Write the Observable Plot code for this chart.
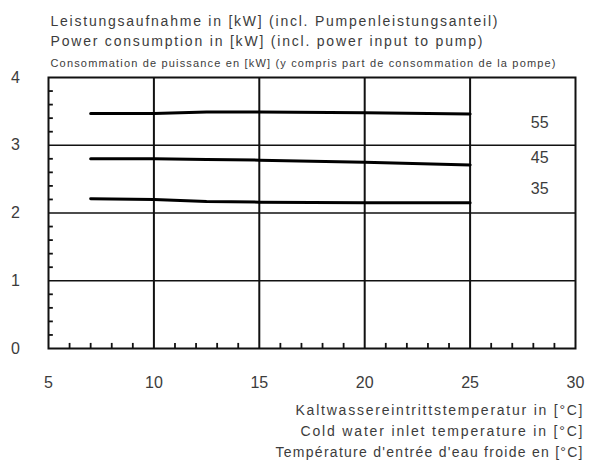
<!DOCTYPE html>
<html>
<head>
<meta charset="utf-8">
<script src="https://cdn.jsdelivr.net/npm/d3@7"></script>
<script src="https://cdn.jsdelivr.net/npm/@observablehq/plot@0.6"></script>
<style>
  html, body { margin: 0; padding: 0; background: #fff; }
  svg { display: block; }
</style>
</head>
<body>
<div id="chart"></div>
<script>
// --- data ---
const temps = [7, 10, 12.5, 15, 20, 25];
const p55 = [3.47, 3.47, 3.49, 3.49, 3.48, 3.46];
const p45 = [2.80, 2.80, 2.79, 2.78, 2.75, 2.71];
const p35 = [2.21, 2.20, 2.17, 2.16, 2.15, 2.15];
const seriesNames = ["55", "45", "35"];
const labelX = [28.3, 28.3, 28.3];
const labelY = [3.33, 2.82, 2.35];
const xTicks = [5, 10, 15, 20, 25, 30];
const yTicks = [0, 1, 2, 3, 4];
const xMinor = [6,7,8,9,11,12,13,14,16,17,18,19,21,22,23,24,26,27,28,29];
const yMinor = [0.2,0.4,0.6,0.8,1.2,1.4,1.6,1.8,2.2,2.4,2.6,2.8,3.2,3.4,3.6,3.8];
const titleLines = [
  "Leistungsaufnahme in [kW] (incl. Pumpenleistungsanteil)",
  "Power consumption in [kW] (incl. power input to pump)",
  "Consommation de puissance en [kW] (y compris part de consommation de la pompe)"
];
const xTitleLines = [
  "Kaltwassereintrittstemperatur in [°C]",
  "Cold water inlet temperature in [°C]",
  "Température d'entrée d'eau froide en [°C]"
];

const rows = [];
[p55, p45, p35].forEach((arr, i) => arr.forEach((v, j) => rows.push({series: seriesNames[i], t: temps[j], p: v})));
const labels = seriesNames.map((s, i) => ({s, x: labelX[i], y: labelY[i]}));

const textColor = "#3c3c3c";
const font = "Liberation Sans, Arial, sans-serif";

const chart = Plot.plot({
  width: 590,
  height: 469,
  marginLeft: 48,
  marginRight: 15,
  marginTop: 77,
  marginBottom: 121,
  style: {fontFamily: font, background: "#fff", overflow: "visible"},
  x: {domain: [5, 30]},
  y: {domain: [0, 4]},
  marks: [
    Plot.gridY([1, 2, 3], {stroke: "#111", strokeOpacity: 1, strokeWidth: 1.5}),
    Plot.gridX([10, 15, 20, 25], {stroke: "#111", strokeOpacity: 1, strokeWidth: 2}),
    Plot.ruleX(xMinor, {y1: 0, y2: 0.075, stroke: "#111", strokeWidth: 1.8}),
    Plot.ruleY(yMinor, {x1: 5, x2: 5.23, stroke: "#111", strokeWidth: 1.8}),
    Plot.frame({stroke: "#111", strokeWidth: 2}),
    Plot.line(rows, {x: "t", y: "p", z: "series", stroke: "#000", strokeWidth: 3}),
    Plot.text(labels, {x: "x", y: "y", text: "s", fontSize: 16, fill: textColor}),
    Plot.axisX(xTicks, {tickSize: 0, tickPadding: 28, fontSize: 16, fill: textColor, label: null, tickFormat: "d"}),
    Plot.axisY(yTicks, {tickSize: 0, tickPadding: 33, fontSize: 16, fill: textColor, label: null, textAnchor: "middle", tickFormat: "d"}),
    Plot.text([titleLines[0]], {className: "tl0", frameAnchor: "top-left", text: d => d, dy: -61, dx: 2, fontSize: 14, fill: textColor, textAnchor: "start"}),
    Plot.text([titleLines[1]], {className: "tl1", frameAnchor: "top-left", text: d => d, dy: -41, dx: 2, fontSize: 14, fill: textColor, textAnchor: "start"}),
    Plot.text([titleLines[2]], {className: "tl2", frameAnchor: "top-left", text: d => d, dy: -18, dx: 2, fontSize: 11, fill: textColor, textAnchor: "start"}),
    Plot.text([xTitleLines[0]], {className: "xt0", frameAnchor: "bottom-right", text: d => d, dy: 66, dx: 7, fontSize: 14, fill: textColor, textAnchor: "end"}),
    Plot.text([xTitleLines[1]], {className: "xt1", frameAnchor: "bottom-right", text: d => d, dy: 87, dx: 7, fontSize: 14, fill: textColor, textAnchor: "end"}),
    Plot.text([xTitleLines[2]], {className: "xt2", frameAnchor: "bottom-right", text: d => d, dy: 108, dx: 7, fontSize: 14, fill: textColor, textAnchor: "end"})
  ]
});
// stretch texts to the reference's wide letter spacing
const fits = {tl0: 447, tl1: 432, tl2: 505, xt0: 287, xt1: 282, xt2: 307};
for (const [cls, len] of Object.entries(fits)) {
  chart.querySelectorAll("." + cls + " text").forEach(t => {
    t.setAttribute("textLength", len);
    t.setAttribute("lengthAdjust", "spacing");
  });
}
document.getElementById("chart").appendChild(chart);
</script>
</body>
</html>
